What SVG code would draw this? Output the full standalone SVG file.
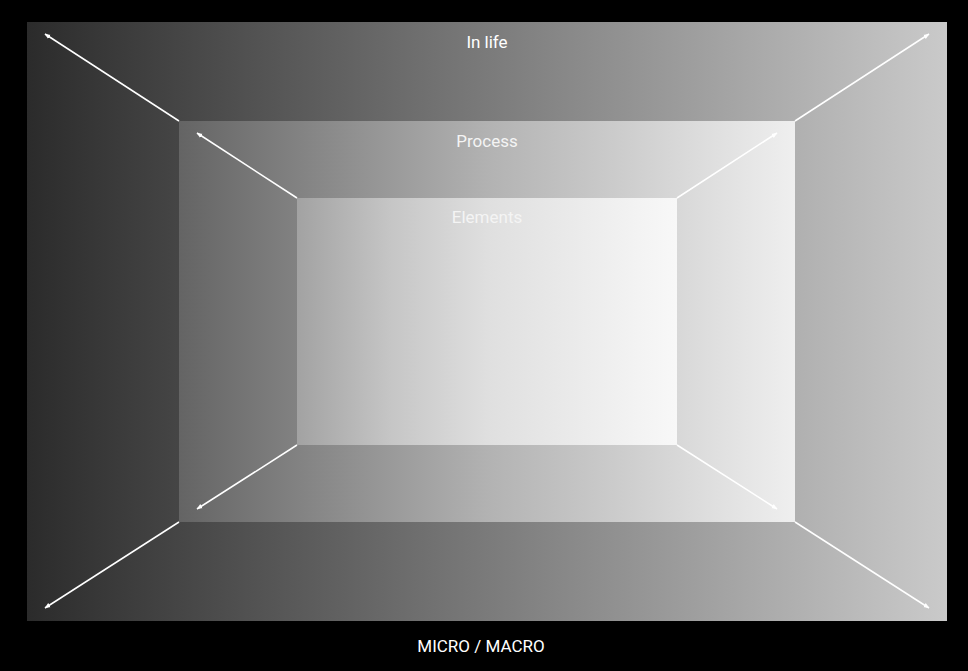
<svg xmlns="http://www.w3.org/2000/svg" width="968" height="671" viewBox="0 0 968 671">
<defs>
<linearGradient id="gOuter" x1="0" y1="0" x2="1" y2="0">
<stop offset="0" stop-color="#2b2b2b"/><stop offset="1" stop-color="#cacaca"/>
</linearGradient>
<linearGradient id="gMid" x1="0" y1="0" x2="1" y2="0">
<stop offset="0" stop-color="#646464"/><stop offset="0.5" stop-color="#b2b2b2"/><stop offset="1" stop-color="#efefef"/>
</linearGradient>
<linearGradient id="gInner" x1="0" y1="0" x2="1" y2="0">
<stop offset="0" stop-color="#a2a2a2"/><stop offset="0.25" stop-color="#c6c6c6"/><stop offset="0.5" stop-color="#dfdfdf"/><stop offset="1" stop-color="#f8f8f8"/>
</linearGradient>
<marker id="ah" viewBox="0 0 10 10" refX="9" refY="5" markerWidth="4" markerHeight="4" orient="auto" markerUnits="strokeWidth">
<path d="M0,1 L10,5 L0,9 z" fill="#ffffff"/>
</marker>
</defs>
<style>
.lbl{font-family:Roboto,"Liberation Sans",sans-serif;font-size:17px;text-anchor:middle;}
.conn{stroke:#ffffff;stroke-width:1.5;fill:none;marker-end:url(#ah);}
</style>
<rect x="0" y="0" width="968" height="671" fill="#000000"/>
<g id="outer">
<rect x="27" y="22" width="920" height="599" fill="url(#gOuter)"/>
<text class="lbl" x="487" y="48" fill="#ffffff">In life</text>
</g>
<g id="middle">
<rect x="179" y="121" width="616" height="401" fill="url(#gMid)"/>
<text class="lbl" x="487" y="147" fill="#f4f4f4">Process</text>
</g>
<g id="inner">
<rect x="297" y="198" width="380" height="247" fill="url(#gInner)"/>
<text class="lbl" x="487" y="223" fill="#f4f4f4">Elements</text>
</g>
<g id="connectors">
<line class="conn" x1="179" y1="121" x2="45" y2="34"/>
<line class="conn" x1="795" y1="121" x2="929" y2="34"/>
<line class="conn" x1="179" y1="522" x2="45" y2="608"/>
<line class="conn" x1="795" y1="522" x2="929" y2="608"/>
<line class="conn" x1="297" y1="198" x2="197" y2="133"/>
<line class="conn" x1="677" y1="198" x2="777" y2="133"/>
<line class="conn" x1="297" y1="445" x2="197" y2="509"/>
<line class="conn" x1="677" y1="445" x2="777" y2="509"/>
</g>
<g id="caption">
<text class="lbl" x="481" y="652" fill="#ffffff">MICRO / MACRO</text>
</g>
</svg>
